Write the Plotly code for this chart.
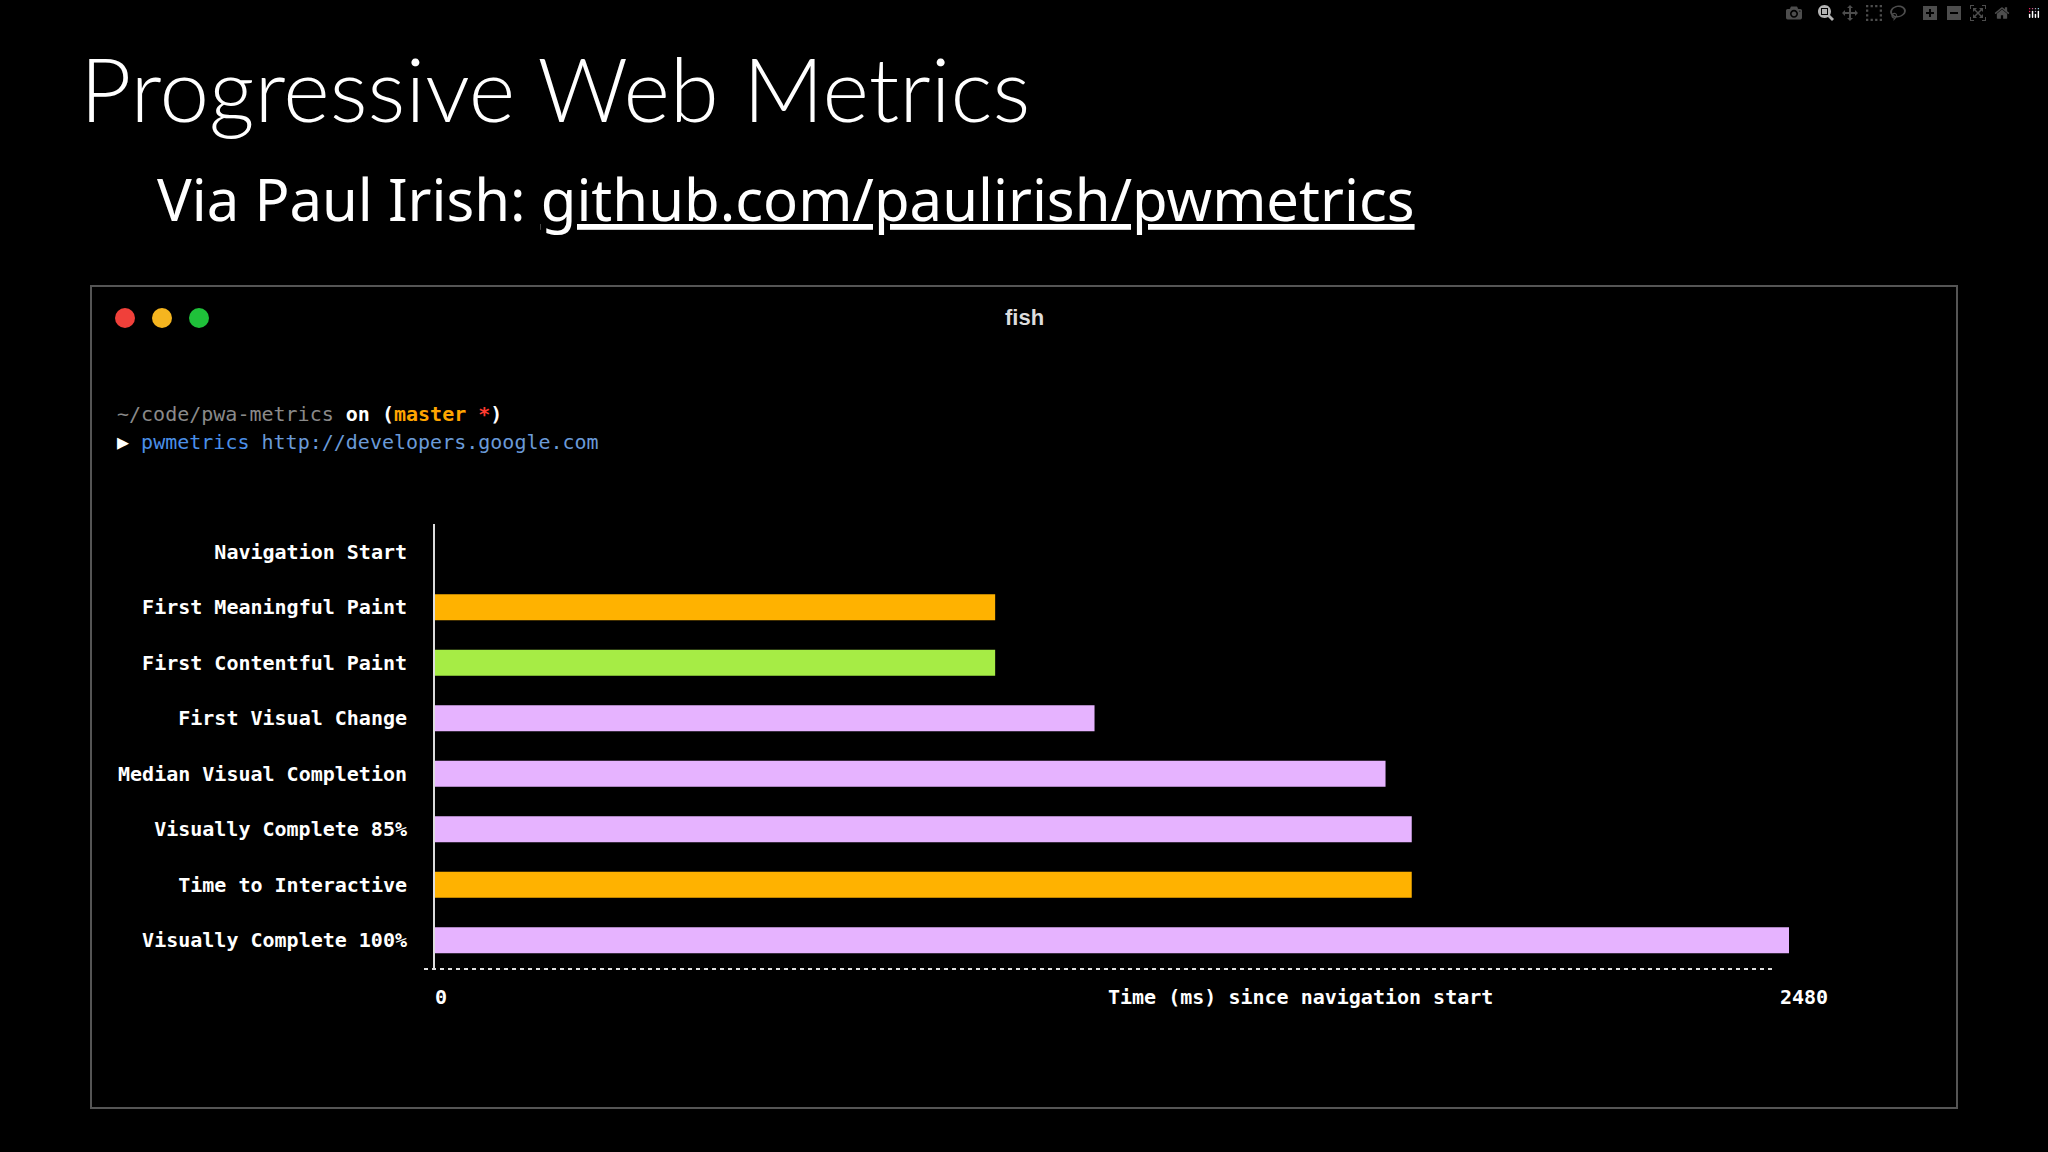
import plotly.graph_objects as go

W, H = 2048, 1152
categories = ["Navigation Start", "First Meaningful Paint", "First Contentful Paint",
              "First Visual Change", "Median Visual Completion", "Visually Complete 85%",
              "Time to Interactive", "Visually Complete 100%"]
values = [0, 1026, 1026, 1208, 1741, 1789, 1789, 2480]
colors = ["#e6b3ff", "#ffb200", "#a6ec45", "#e6b3ff", "#e6b3ff", "#e6b3ff", "#ffb200", "#e6b3ff"]
x_max = 2480

def px(x): return x / W
def py(y): return 1 - y / H

mono = "DejaVu Sans Mono"
fig = go.Figure(go.Bar(x=values, y=categories, orientation="h", marker_color=colors,
                       marker_line_width=0, width=0.47, hoverinfo="skip"))

fig.update_layout(
    width=W, height=H, margin=dict(l=0, r=0, t=0, b=0),
    paper_bgcolor="#000", plot_bgcolor="#000", showlegend=False,
    xaxis=dict(domain=[px(435), px(1789)], range=[0, x_max], showgrid=False,
               zeroline=False, showticklabels=False, ticks=""),
    yaxis=dict(domain=[py(968), py(524)], autorange="reversed", showgrid=False,
               zeroline=False, ticks="", ticklabelstandoff=22,
               showline=True, linecolor="#ddd", linewidth=2,
               tickfont=dict(family=mono, size=20, color="#fff", weight="bold")),
)

shapes = [
    dict(type="rect", xref="paper", yref="paper", x0=px(91), x1=px(1957), y0=py(1108), y1=py(286),
         line=dict(color="#555", width=2), layer="below"),
    dict(type="line", xref="paper", yref="paper", x0=px(424), x1=px(1776), y0=py(969), y1=py(969),
         line=dict(color="#ddd", width=2, dash="4px,4px")),
]
for cx, c in [(125, "#f0403a"), (162, "#f5b51f"), (199, "#1fc13a")]:
    shapes.append(dict(type="circle", xref="paper", yref="paper", x0=px(cx - 10), x1=px(cx + 10),
                       y0=py(328), y1=py(308), fillcolor=c, line_width=0))
fig.update_layout(shapes=shapes)

def ann(x, y, text, size, family, color="#fff", xanchor="left", weight="normal"):
    fig.add_annotation(x=px(x), y=py(y), xref="paper", yref="paper", text=text, showarrow=False,
                       xanchor=xanchor, yanchor="middle",
                       font=dict(size=size, family=family, color=color, weight=weight))

ann(78, 88, "Progressive Web Metrics", 89, "Lato", weight=300)
ann(155, 198, "Via Paul Irish: <u>github.com/paulirish/pwmetrics</u>", 58, "Noto Sans")
ann(1024, 317, "<b>fish</b>", 22, "Liberation Sans", color="#ddd", xanchor="center")
ann(115, 414, "<span style='color:#8a8a8a'>~/code/pwa-metrics</span> <b>on</b> <b>(</b>"
    "<b><span style='color:#ffa500'>master</span></b> <b><span style='color:#ff3b30'>*</span>)</b>",
    20, mono)
ann(115, 442, "▶ <span style='color:#4a8fe8'>pwmetrics</span> "
    "<span style='color:#6a9ad8'>http://developers.google.com</span>", 20, mono)
ann(433, 997, "<b>0</b>", 20, mono)
ann(1300, 997, "<b>Time (ms) since navigation start</b>", 20, mono, xanchor="center")
ann(1778, 997, "<b>%d</b>" % x_max, 20, mono)

fig.write_html("out.html", post_script="document.body.style.margin='0';document.body.style.background='#000';")
